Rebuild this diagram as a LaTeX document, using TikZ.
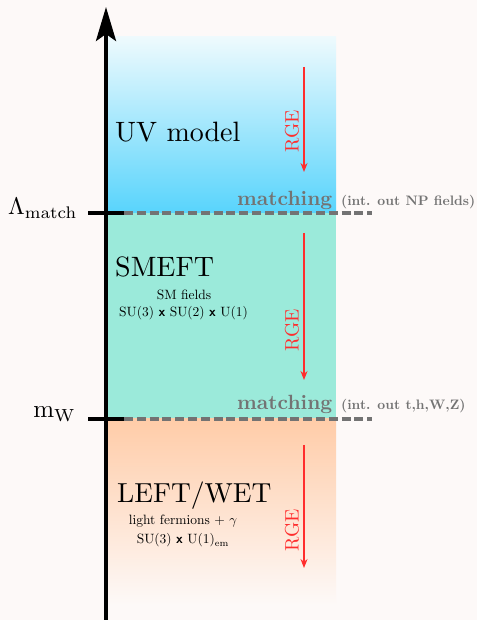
\documentclass[tikz,border=0pt]{standalone}
\usepackage{graphicx}
\usetikzlibrary{arrows.meta}
\definecolor{bg}{RGB}{253,249,248}
\definecolor{uvtop}{RGB}{238,250,253}
\definecolor{uvc}{RGB}{88,212,252}
\definecolor{smc}{RGB}{155,234,218}
\definecolor{lefc}{RGB}{255,204,168}
\definecolor{rgec}{RGB}{255,45,45}
\definecolor{matc}{RGB}{115,115,115}
\newcommand{\tx}{\textsf{\textbf{x}}}
\begin{document}
\begin{tikzpicture}[x=1pt,y=1pt,
  lbl/.style={inner sep=0pt},
  matchlbl/.style={inner sep=0pt,text=matc,font=\bfseries},
  rgearrow/.style={draw=rgec,line width=1.4pt,-{Stealth[length=9pt,width=7pt]}},
  rgelbl/.style={inner sep=0pt,text=rgec,rotate=90},
  tick/.style={line width=4pt},
  matchline/.style={draw=matc,line width=3.8pt,dash pattern=on 9pt off 3.8pt},
]
\useasboundingbox (0,0) rectangle (477,620);
\fill[bg] (0,0) rectangle (477,620);
% regions
\shade[top color=uvtop, bottom color=uvc] (106,583) rectangle (336,407);
\fill[smc] (106,407) rectangle (336,201);
\shade[top color=lefc, bottom color=bg] (106,201) rectangle (336,15);
% axis
\coordinate (axb) at (106,0);
\coordinate (axt) at (106,613);
\draw[line width=4pt,-{Stealth[length=34pt,width=20pt,inset=7pt]}] (axb) -- (axt);
% ticks and matching lines
\coordinate (t1a) at (88,407); \coordinate (t1b) at (124,407); \coordinate (t1c) at (372,407);
\coordinate (t2a) at (88,201); \coordinate (t2b) at (124,201); \coordinate (t2c) at (372,201);
\draw[matchline] (t1b) -- (t1c);
\draw[matchline] (t2b) -- (t2c);
\draw[tick] (t1a) -- (t1b);
\draw[tick] (t2a) -- (t2b);
% scale labels
\node[lbl,anchor=base west] (lam) at (8,405) {\scalebox{2.4}{$\Lambda_{\mathrm{match}}$}};
\node[lbl,anchor=base east] (mw) at (76,202) {\scalebox{2.5}{$\mathrm{m_W}$}};
% matching labels
\node[matchlbl,anchor=base west] (m1) at (237,414) {\scalebox{2.06}{matching}};
\node[matchlbl,anchor=base west] (n1) at (341,414) {\scalebox{1.37}{(int. out NP fields)}};
\node[matchlbl,anchor=base west] (m2) at (237,210) {\scalebox{2.06}{matching}};
\node[matchlbl,anchor=base west] (n2) at (341,210) {\scalebox{1.37}{(int. out t,h,W,Z)}};
% region labels
\node[lbl,anchor=base west] (uv) at (115,478) {\scalebox{2.8}{UV model}};
\node[lbl,anchor=base west] (sm) at (115,343) {\scalebox{2.8}{SMEFT}};
\node[lbl,anchor=base] (smf) at (184,320) {\scalebox{1.35}{SM fields}};
\node[lbl,anchor=base] (smg) at (183.5,303.3) {\scalebox{1.35}{SU(3) \tx{} SU(2) \tx{} U(1)}};
\node[lbl,anchor=base west] (lw) at (117,117) {\scalebox{2.75}{LEFT/WET}};
\node[lbl,anchor=base] (lf) at (183,95) {\scalebox{1.35}{light fermions $+$ $\gamma$}};
\node[lbl,anchor=base] (lg) at (183,76) {\scalebox{1.35}{SU(3) \tx{} U(1)$_{\mathrm{em}}$}};
% RGE arrows
\coordinate (r1a) at (304,553); \coordinate (r1b) at (304,448);
\coordinate (r2a) at (304,387); \coordinate (r2b) at (304,240);
\coordinate (r3a) at (304,175); \coordinate (r3b) at (304,52);
\draw[rgearrow] (r1a) -- (r1b);
\draw[rgearrow] (r2a) -- (r2b);
\draw[rgearrow] (r3a) -- (r3b);
\node[rgelbl] (g1) at (292,489) {\scalebox{1.95}{RGE}};
\node[rgelbl] (g2) at (292,290) {\scalebox{1.95}{RGE}};
\node[rgelbl] (g3) at (292,90) {\scalebox{1.95}{RGE}};
\end{tikzpicture}
\end{document}
